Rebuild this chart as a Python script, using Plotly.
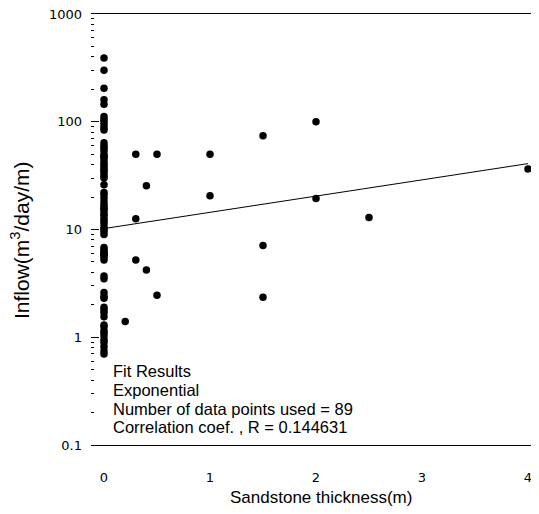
import numpy as np
import plotly.graph_objects as go

# ---- data ----
x_zero_inflow = [390, 300, 205, 160, 145, 112, 105, 100, 94, 88, 84, 64, 60, 57, 54,
                 50, 48, 47, 45, 42, 40, 38, 36, 35, 33, 31, 30, 26, 22, 21, 19.5, 18,
                 17, 16, 15.5, 15, 14, 13.5, 12.5, 12, 11.3, 10.5, 10, 9.6, 9, 6.8, 6.5,
                 6.2, 6, 5.9, 5.8, 5.5, 5.2, 3.7, 3.5, 2.6, 2.4, 2.3, 1.9, 1.8, 1.7, 1.55,
                 1.3, 1.25, 1.15, 1.1, 1.03, 0.95, 0.9, 0.82, 0.75, 0.7]
thick_x = [0.2, 0.3, 0.3, 0.3, 0.4, 0.4, 0.5, 0.5, 1.0, 1.0, 1.5, 1.5, 1.5, 2.0, 2.0, 2.5, 4.0]
thick_y = [1.4, 50, 12.6, 5.2, 25.5, 4.2, 50, 2.45, 50, 20.6, 74, 7.1, 2.35, 100, 19.4, 12.9, 36.5]

fit_a = 10.2      # exponential fit: y = a * exp(b * x)
fit_b = 0.347
fit_range = [0.0, 4.0]

y_tickvals = [0.1, 1, 10, 100, 1000]
y_ticktext = ["0.1", "1", "10", "100", "1000"]
x_tickvals = [0, 1, 2, 3, 4]
x_ticktext = ["0", "1", "2", "3", "4"]

fit_lines = ["Fit Results", "Exponential", "Number of data points used = 89",
             "Correlation coef. , R = 0.144631"]

# ---- geometry (page pixels; page body has an 8px margin) ----
OFF = 8
PAGE_W, PAGE_H = 539, 514
PL, PR, PT, PB = 91, 539, 14, 445     # plot area in page pixels
W, H = PAGE_W - OFF, PAGE_H - OFF
ML, MT = PL - OFF, PT - OFF
MR = PAGE_W - PR
MB = H - (PB - OFF)
PW, PH = PR - PL, PB - PT

def px_x(px):
    return (px - PL) / PW

def px_y(py):
    return (PB - py) / PH

xs = [0.0] * len(x_zero_inflow) + thick_x
ys = x_zero_inflow + thick_y

fx = np.linspace(fit_range[0], fit_range[1], 200)
fy = fit_a * np.exp(fit_b * fx)

font = "Liberation Sans, Arial, sans-serif"
tick_font = dict(family="DejaVu Sans, sans-serif", size=13, color="black")

fig = go.Figure()
fig.add_trace(go.Scatter(x=fx, y=fy, mode="lines",
                         line=dict(color="black", width=1), hoverinfo="skip"))
fig.add_trace(go.Scatter(x=xs, y=ys, mode="markers",
                         marker=dict(color="black", size=7.5, line=dict(width=0))))

annotations = []
line_y = [371, 390, 409, 427]
for t, py in zip(fit_lines, line_y):
    annotations.append(dict(text=t, xref="paper", yref="paper", x=px_x(111), y=px_y(py),
                            xanchor="left", yanchor="middle", showarrow=False,
                            font=dict(family=font, size=16.5, color="black")))
annotations.append(dict(text="Inflow(m<sup>3</sup>/day/m)", xref="paper", yref="paper",
                        x=px_x(20), y=px_y(240), xanchor="center", yanchor="middle",
                        textangle=-90, showarrow=False,
                        font=dict(family=font, size=21, color="black")))
annotations.append(dict(text="Sandstone thickness(m)", xref="paper", yref="paper",
                        x=px_x(321), y=px_y(497), xanchor="center", yanchor="middle",
                        showarrow=False, font=dict(family=font, size=17, color="black")))

fig.update_layout(
    width=W, height=H,
    margin=dict(l=ML, r=MR, t=MT, b=MB, pad=0),
    paper_bgcolor="white", plot_bgcolor="white",
    showlegend=False,
    annotations=annotations,
    xaxis=dict(range=[(PL - 104) / 106, (PR - 104) / 106],
               tickvals=x_tickvals, ticktext=x_ticktext,
               ticks="", ticklabelstandoff=20,
               showgrid=False, zeroline=False,
               showline=True, linecolor="black", linewidth=1, mirror=True,
               tickfont=tick_font),
    yaxis=dict(type="log", range=[-1, 3],
               tickvals=y_tickvals, ticktext=y_ticktext,
               ticks="inside", ticklen=8, tickcolor="black", tickwidth=1,
               minor=dict(dtick="D1", ticks="inside", ticklen=3,
                          tickcolor="black", showgrid=False),
               showgrid=False, zeroline=False, showline=False,
               ticklabelstandoff=8, ticklabeloverflow="allow",
               tickfont=tick_font),
)

fig.write_html("out.html")
